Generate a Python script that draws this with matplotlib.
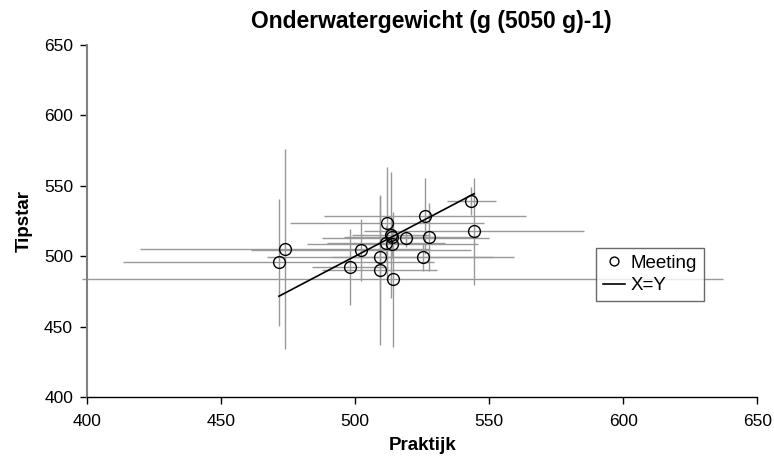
import matplotlib
matplotlib.use("Agg")
import matplotlib.pyplot as plt
import numpy as np

plt.rcParams['font.family'] = ['Liberation Sans', 'DejaVu Sans']

# Praktijk (x) and Tipstar (y) values per meeting, with uncertainty half-widths
praktijk = [473.9, 471.6, 498.1, 502.2, 509.3, 509.1, 511.9, 513.4, 511.5,
            513.9, 513.7, 514.1, 518.8, 526.0, 527.5, 525.4, 543.4, 544.4]
tipstar = [504.9, 495.7, 492.3, 504.4, 499.6, 490.0, 523.4, 515.1, 509.2,
           508.7, 513.4, 483.6, 512.7, 528.5, 513.8, 499.6, 539.4, 517.9]
xerr_lo = [54, 58, 14, 41, 42, 21.5, 36, 14.6, 22, 32, 18, 116, 31, 37.7,
           18.5, 34, 9, 41]
xerr_hi = [54, 58, 14, 41, 42, 21.5, 36, 14.6, 22, 32, 18, 123, 31, 37.7,
           18.5, 34, 9, 41]
yerr = [71, 45, 27, 22, 44, 53, 40, 45, 12, 10, 14, 48, 6, 27, 24, 10, 10, 38]

fig = plt.figure(figsize=(7.74, 4.68), dpi=100)
ax = fig.add_axes([0.1124, 0.1517, 0.866, 0.7521])

eb = ax.errorbar(praktijk, tipstar, xerr=[xerr_lo, xerr_hi], yerr=yerr,
                 fmt='none', ecolor='#999999', elinewidth=1.0, capsize=0,
                 zorder=1)
for coll in eb.lines[2]:
    coll.set_clip_on(False)

ax.plot(praktijk, tipstar, 'o', mfc='none', mec='black', mew=1.0,
        ms=8.5, label='Meeting', zorder=3)

lo, hi = min(praktijk), max(praktijk)
ax.plot([lo, hi], [lo, hi], color='black', lw=1.2, label='X=Y', zorder=2)

ax.set_xlim(400, 650)
ax.set_ylim(400, 650)
ax.set_xticks([400, 450, 500, 550, 600, 650])
ax.set_yticks([400, 450, 500, 550, 600, 650])
ax.tick_params(axis='both', direction='out', length=5, width=1,
               labelsize=12.5, color='black')
ax.tick_params(axis='x', pad=7)
ax.tick_params(axis='y', pad=5)

for s in ['top', 'right']:
    ax.spines[s].set_visible(False)
ax.spines['left'].set_color('#808080')
ax.spines['left'].set_linewidth(1.5)
ax.spines['bottom'].set_color('black')
ax.spines['bottom'].set_linewidth(1.0)

ax.set_title('Onderwatergewicht (g (5050 g)-1)', fontsize=16.5,
             fontweight='bold', pad=12, x=0.513)
ax.set_xlabel('Praktijk', fontsize=13.5, fontweight='bold', labelpad=6)
ax.set_ylabel('Tipstar', fontsize=13.5, fontweight='bold', labelpad=8)

leg = ax.legend(loc='upper left', bbox_to_anchor=(0.7597, 0.4233),
                frameon=True, fancybox=False, fontsize=13.5,
                handlelength=1.2, handletextpad=0.3, borderpad=0.35,
                labelspacing=0.3, borderaxespad=0, markerscale=0.75)
leg.get_frame().set_edgecolor('#444444')
leg.get_frame().set_linewidth(1.0)
leg.set_zorder(5)

fig.savefig('out.png', dpi=100)
